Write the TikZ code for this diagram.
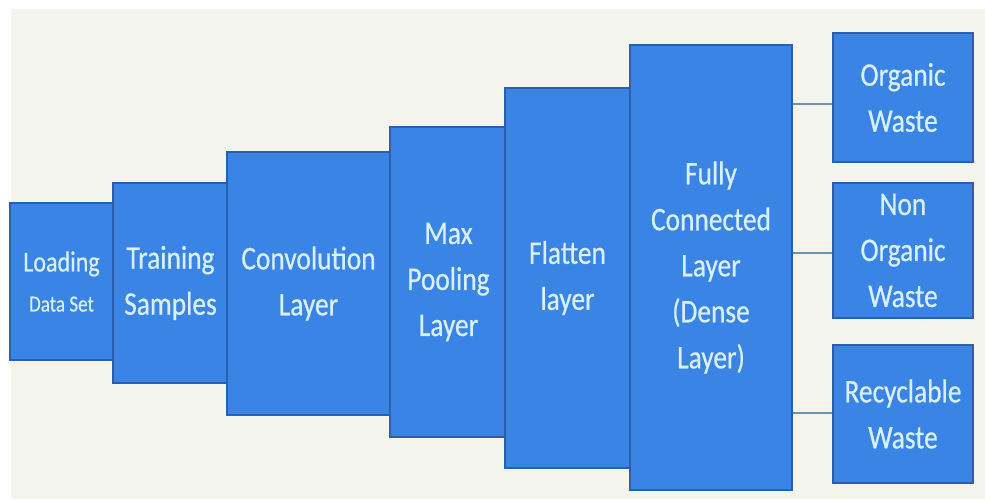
\documentclass[tikz,border=0pt]{standalone}
\usepackage{fontspec}
\setmainfont{Carlito}[FakeStretch=0.83,FakeBold=0.6]
\definecolor{boxfill}{HTML}{3A84E6}
\definecolor{boxline}{HTML}{2A5FAF}
\definecolor{boxtext}{HTML}{D8F0FF}
\definecolor{panel}{HTML}{F3F4EC}
\definecolor{linkcol}{HTML}{6F93AE}
\begin{document}
\begin{tikzpicture}[x=1pt,y=-1pt,
  layer/.style={draw=boxline, line width=1.8pt, fill=boxfill, text=boxtext,
    align=center, inner sep=0pt, font=\fontsize{33}{46}\selectfont},
  link/.style={draw=linkcol, line width=1.5pt}]
\fill[white] (0,0) rectangle (985,499);
\fill[panel] (11,9) rectangle (985,499);
\useasboundingbox (0,0) rectangle (985,499);

\node[layer, minimum width=103pt, minimum height=157pt, font=\fontsize{29}{40}\selectfont] (load) at (61.5,281.5)
  {Loading\\{\fontsize{23}{30}\selectfont Data Set}};
\node[layer, minimum width=115pt, minimum height=200pt] (train) at (170.5,283) {Training\\Samples};
\node[layer, minimum width=163pt, minimum height=263pt] (conv) at (308.5,283.5) {Convolution\\Layer};
\node[layer, minimum width=117pt, minimum height=310pt] (pool) at (448.5,282) {Max\\Pooling\\Layer};
\node[layer, minimum width=125pt, minimum height=380pt] (flat) at (567.5,278) {Flatten\\layer};
\node[layer, minimum width=162pt, minimum height=445pt] (fc) at (711,267.5) {Fully\\Connected\\Layer\\(Dense\\Layer)};

\node[layer, minimum width=140pt, minimum height=129pt] (org) at (903,97.5) {Organic\\Waste};
\node[layer, minimum width=140pt, minimum height=135pt] (non) at (903,250.5) {Non\\Organic\\Waste};
\node[layer, minimum width=140pt, minimum height=138pt] (rec) at (903,414) {Recyclable\\Waste};

\coordinate (o1) at ([yshift=-6.5pt]org.west);
\coordinate (o2) at ([yshift=-2.5pt]non.west);
\coordinate (o3) at ([yshift=1pt]rec.west);
\draw[link] (fc.east |- o1) -- (o1);
\draw[link] (fc.east |- o2) -- (o2);
\draw[link] (fc.east |- o3) -- (o3);
\end{tikzpicture}
\end{document}
